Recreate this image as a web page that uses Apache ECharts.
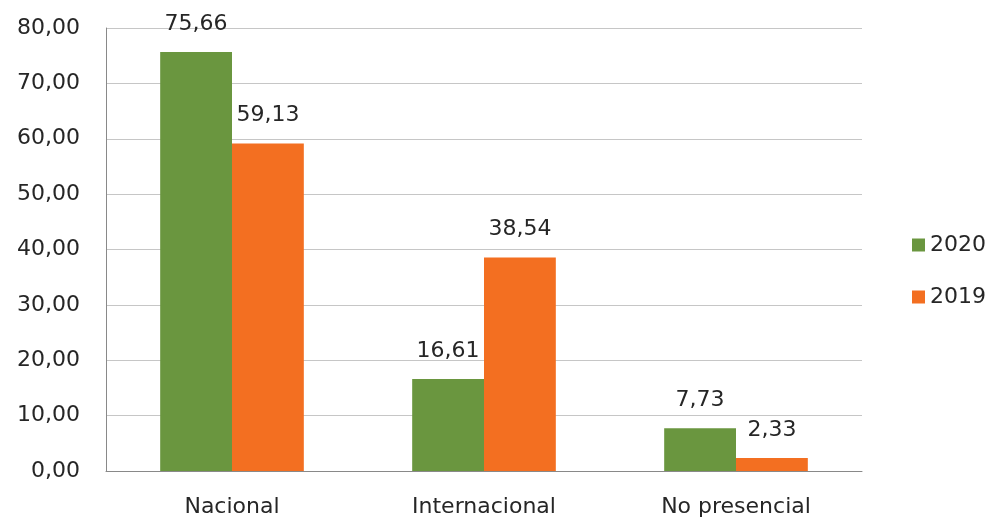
<!DOCTYPE html>
<html><head><meta charset="utf-8">
<script src="https://cdn.jsdelivr.net/npm/echarts@6/dist/echarts.min.js"></script>
<style>html,body{margin:0;padding:0;background:#fff}#c{width:992px;height:522px}</style>
</head><body><div id="c"></div>
<script>
const categories = ['Nacional', 'Internacional', 'No presencial'];
const series2020 = [75.66, 16.61, 7.73];
const series2019 = [59.13, 38.54, 2.33];
const seriesNames = ['2020', '2019'];
const fmt = v => v.toFixed(2).replace('.', ',');
const FONT = '"DejaVu Sans", "Open Sans", sans-serif';
const FS = 22;
const chart = echarts.init(document.getElementById('c'));
const lbl = {show: true, position: 'top', distance: 17, color: '#262626', fontSize: FS, fontFamily: FONT, formatter: p => fmt(p.value)};
chart.setOption({
  animation: false,
  textStyle: {fontFamily: FONT},
  grid: {left: 106, right: 130, top: 28, bottom: 51},
  legend: {
    orient: 'vertical', left: 907, top: 229, itemWidth: 13, itemHeight: 13, itemGap: 30,
    icon: 'rect', textStyle: {fontSize: FS, color: '#262626', fontFamily: FONT},
    data: seriesNames
  },
  xAxis: {
    type: 'category', data: categories,
    axisLine: {lineStyle: {color: '#898989'}},
    axisTick: {show: false},
    axisLabel: {fontSize: FS, color: '#262626', margin: 25, fontFamily: FONT}
  },
  yAxis: {
    type: 'value', min: 0, max: 80, interval: 10,
    axisLine: {show: true, lineStyle: {color: '#898989'}},
    splitLine: {lineStyle: {color: '#c6c6c6'}},
    axisLabel: {fontSize: FS, color: '#262626', margin: 26, fontFamily: FONT, formatter: v => fmt(v)}
  },
  series: [
    {name: seriesNames[0], type: 'bar', data: series2020, barGap: '0%', barCategoryGap: '43%', itemStyle: {color: '#6A963F'}, label: lbl},
    {name: seriesNames[1], type: 'bar', data: series2019, itemStyle: {color: '#F36F21'}, label: lbl}
  ]
});
</script></body></html>
